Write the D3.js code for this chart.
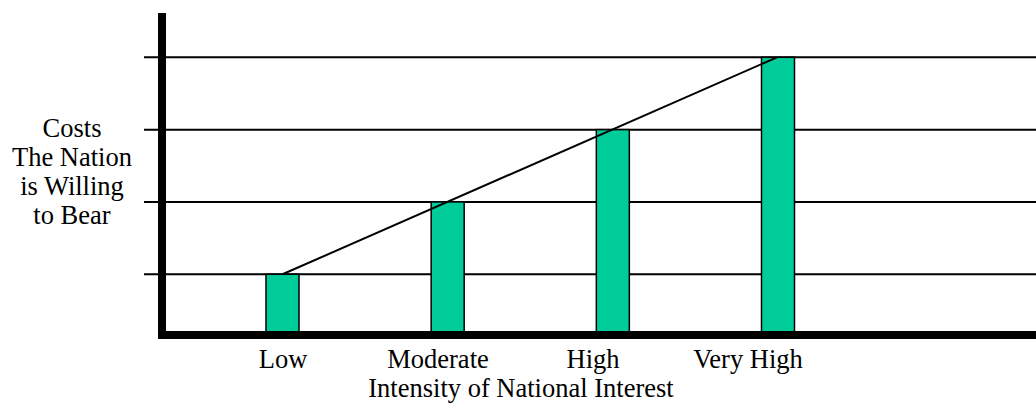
<!DOCTYPE html>
<html>
<head>
<meta charset="utf-8">
<script src="https://cdn.jsdelivr.net/npm/d3@7"></script>
<style>
  html, body { margin: 0; padding: 0; background: #fff; }
  svg { display: block; }
  text { font-family: "Liberation Serif", "Times New Roman", serif; fill: #000; }
</style>
</head>
<body>
<svg id="chart" width="1036" height="408"></svg>
<script>
// ---- data ----
const categories = ["Low", "Moderate", "High", "Very High"];
const values = [1, 2, 3, 4];
const gridValues = [1, 2, 3, 4];
const yTitleLines = ["Costs", "The Nation", "is Willing", "to Bear"];
const xTitle = "Intensity of National Interest";

// ---- layout ----
const W = 1036, H = 408;
const svg = d3.select("#chart");

const axisX = 162;      // center of vertical axis
const axisY = 335;      // center of horizontal axis
const axisW = 8;

const y = d3.scaleLinear().domain([0, 4]).range([346.6, 57.3]);
const xBar = d3.scalePoint().domain(categories).range([282.5, 778]);
const xLabel = d3.scalePoint().domain(categories).range([283, 748]);
const barW = 33;

// gridlines (with tick stubs extending left of axis)
svg.append("g").selectAll("line").data(gridValues).join("line")
  .attr("x1", 144).attr("x2", W)
  .attr("y1", d => y(d)).attr("y2", d => y(d))
  .attr("stroke", "#000").attr("stroke-width", 2);

// bars
svg.append("g").selectAll("rect").data(values).join("rect")
  .attr("x", (d, i) => xBar(categories[i]) - barW / 2)
  .attr("width", barW)
  .attr("y", d => y(d))
  .attr("height", d => axisY - y(d))
  .attr("fill", "#00CC99")
  .attr("stroke", "#000").attr("stroke-width", 1.5);

// trend line through bar tops (first to last)
const n = values.length;
svg.append("line")
  .attr("x1", xBar(categories[0])).attr("y1", y(values[0]))
  .attr("x2", xBar(categories[n - 1]) - 1).attr("y2", y(values[n - 1]))
  .attr("stroke", "#000").attr("stroke-width", 2);

// axes (thick)
svg.append("line")
  .attr("x1", axisX).attr("x2", axisX)
  .attr("y1", 13).attr("y2", axisY + axisW / 2)
  .attr("stroke", "#000").attr("stroke-width", axisW);
svg.append("line")
  .attr("x1", axisX - axisW / 2).attr("x2", W)
  .attr("y1", axisY).attr("y2", axisY)
  .attr("stroke", "#000").attr("stroke-width", axisW);

// category labels
svg.append("g").selectAll("text").data(categories).join("text")
  .attr("x", d => xLabel(d)).attr("y", 368)
  .attr("text-anchor", "middle")
  .attr("font-size", 26.5)
  .text(d => d);

// x title
svg.append("text")
  .attr("x", 521).attr("y", 397)
  .attr("text-anchor", "middle")
  .attr("font-size", 26.5)
  .text(xTitle);

// y title (multi-line)
svg.append("g").selectAll("text").data(yTitleLines).join("text")
  .attr("x", 72).attr("y", (d, i) => 137 + i * 29)
  .attr("text-anchor", "middle")
  .attr("font-size", 26.5)
  .text(d => d);
</script>
</body>
</html>
